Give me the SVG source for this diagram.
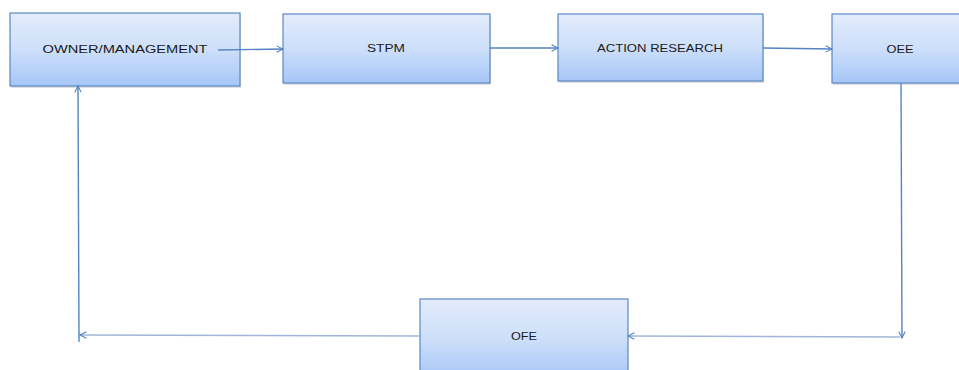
<svg xmlns="http://www.w3.org/2000/svg" width="959" height="370" viewBox="0 0 959 370">
  <defs>
    <linearGradient id="boxFill" x1="0" y1="0" x2="0" y2="1">
      <stop offset="0" stop-color="#e3ecfb"/>
      <stop offset="0.5" stop-color="#cddffa"/>
      <stop offset="1" stop-color="#a6c6f7"/>
    </linearGradient>
    <marker id="arrow" viewBox="0 0 10 10" refX="9" refY="5" markerWidth="8" markerHeight="8" markerUnits="userSpaceOnUse" orient="auto">
      <path d="M1,1 L9,5 L1,9" fill="none" stroke="#4f7fc0" stroke-width="1.3"/>
    </marker>
  </defs>
  <style>
    .box { fill: url(#boxFill); stroke: #5b87c5; stroke-width: 1.2; }
    .shadow { fill: #c9c9c9; opacity: 0.6; }
    .label { font-family: "Liberation Sans", Arial, sans-serif; font-size: 11px; fill: #1a1a1a; text-anchor: middle; }
    .conn { fill: none; stroke: #5583c4; stroke-width: 1.4; marker-end: url(#arrow); }
    .conn-light { fill: none; stroke: #9fb6d8; stroke-width: 1.4; marker-end: url(#arrow); }
  </style>

  <rect width="959" height="370" fill="#ffffff"/>

  <g id="owner">
    <rect class="shadow" x="11" y="15" width="230" height="73"/>
    <rect class="box" x="10" y="13" width="230" height="73"/>
    <text class="label" x="125" y="53" textLength="165" lengthAdjust="spacingAndGlyphs">OWNER/MANAGEMENT</text>
  </g>

  <g id="stpm">
    <rect class="shadow" x="284" y="16" width="207" height="69"/>
    <rect class="box" x="283" y="14" width="207" height="69"/>
    <text class="label" x="386" y="52" textLength="38" lengthAdjust="spacingAndGlyphs">STPM</text>
  </g>

  <g id="action-research">
    <rect class="shadow" x="559" y="16" width="205" height="67"/>
    <rect class="box" x="558" y="14" width="205" height="67"/>
    <text class="label" x="660" y="52" textLength="126" lengthAdjust="spacingAndGlyphs">ACTION RESEARCH</text>
  </g>

  <g id="oee">
    <rect class="shadow" x="833" y="16" width="140" height="69"/>
    <rect class="box" x="832" y="14" width="140" height="69"/>
    <text class="label" x="900" y="53" textLength="27" lengthAdjust="spacingAndGlyphs">OEE</text>
  </g>

  <g id="ofe">
    <rect class="shadow" x="421" y="301" width="207" height="80"/>
    <rect class="box" x="420" y="299" width="208" height="80"/>
    <text class="label" x="524" y="340" textLength="26" lengthAdjust="spacingAndGlyphs">OFE</text>
  </g>

  <g id="connectors">
    <line class="conn" x1="218" y1="50" x2="283" y2="49"/>
    <line class="conn" x1="490" y1="48" x2="558" y2="48"/>
    <line class="conn" x1="763" y1="48" x2="832" y2="49"/>
    <line class="conn" x1="901" y1="83" x2="902" y2="338"/>
    <line class="conn-light" x1="900" y1="337" x2="628" y2="336"/>
    <line class="conn-light" x1="420" y1="336" x2="80" y2="335"/>
    <line class="conn" x1="79" y1="342" x2="78" y2="86"/>
  </g>
</svg>
